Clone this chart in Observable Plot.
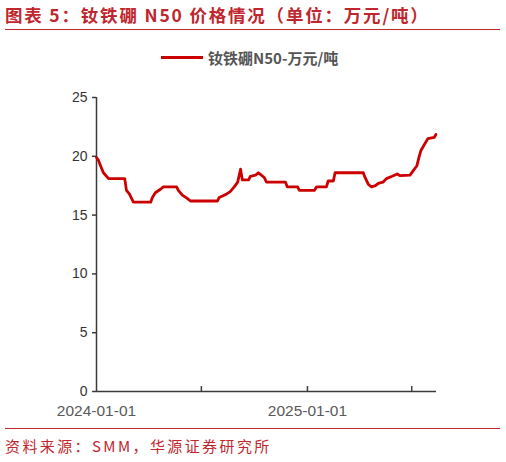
<!DOCTYPE html>
<html>
<head>
<meta charset="utf-8">
<script src="https://cdn.jsdelivr.net/npm/d3@7"></script>
<script src="https://cdn.jsdelivr.net/npm/@observablehq/plot@0.6"></script>
<style>
  html, body { margin: 0; padding: 0; background: #fff; }
  #wrap { position: relative; width: 506px; height: 462px; overflow: hidden; font-family: "Liberation Sans", Arial, sans-serif; }
  #title { position: absolute; left: 5px; top: 2px; font-family: "Noto Sans CJK SC", sans-serif; font-weight: bold; font-size: 17.5px; color: #c0262d; letter-spacing: 1.8px; white-space: nowrap; }
  #rule1 { position: absolute; left: 5px; top: 29px; width: 495px; height: 0; border-top: 1.5px solid #c0262d; }
  #legend { position: absolute; left: 161px; top: 47px; display: flex; align-items: center; white-space: nowrap; }
  #legend .sw { width: 42px; height: 0; border-top: 3px solid #cc0000; margin-right: 5px; }
  #legend .lt { font-family: "Noto Sans CJK SC", sans-serif; font-weight: bold; font-size: 15px; color: #555; }
  #chart { position: absolute; left: 0; top: 80px; }
  #rule2 { position: absolute; left: 5px; top: 428px; width: 495px; height: 0; border-top: 1.5px solid #c0262d; }
  #source { position: absolute; left: 5px; top: 435px; font-family: "Noto Sans CJK SC", sans-serif; font-size: 15px; color: #c0262d; letter-spacing: 2.4px; white-space: nowrap; }
</style>
</head>
<body>
<div id="wrap">
  <div id="title">图表 5：钕铁硼 N50 价格情况（单位：万元/吨）</div>
  <div id="rule1"></div>
  <div id="legend"><div class="sw"></div><div class="lt">钕铁硼N50-万元/吨</div></div>
  <div id="chart"></div>
  <div id="rule2"></div>
  <div id="source">资料来源：SMM，华源证券研究所</div>
</div>
<script>
// Data
const dates = [
  "2024-01-01","2024-01-04","2024-01-08","2024-01-13","2024-01-22","2024-02-19","2024-02-22","2024-02-27",
  "2024-03-05","2024-04-04","2024-04-07","2024-04-12","2024-04-21","2024-04-26","2024-05-19","2024-05-22",
  "2024-05-29","2024-06-07","2024-06-12","2024-07-29","2024-08-01","2024-08-14","2024-08-20","2024-08-27",
  "2024-09-02","2024-09-07","2024-09-10","2024-09-21","2024-09-24","2024-10-03","2024-10-08","2024-10-13",
  "2024-10-18","2024-10-22","2024-11-24","2024-11-27","2024-12-15","2024-12-18","2025-01-13","2025-01-17",
  "2025-02-03","2025-02-06","2025-02-15","2025-02-18","2025-04-08","2025-04-11","2025-04-17","2025-04-22",
  "2025-04-29","2025-05-04","2025-05-12","2025-05-18","2025-05-28","2025-06-06","2025-06-11","2025-06-28",
  "2025-07-04","2025-07-10","2025-07-14","2025-07-17","2025-07-23","2025-07-29","2025-08-09","2025-08-12"
];
const prices = [
  19.9, 19.7, 19.2, 18.6, 18.1, 18.1, 17.1, 16.8,
  16.1, 16.1, 16.5, 16.9, 17.2, 17.4, 17.4, 17.1,
  16.7, 16.4, 16.2, 16.2, 16.5, 16.8, 17.0, 17.4,
  17.8, 18.9, 18.0, 18.0, 18.3, 18.4, 18.6, 18.4,
  18.2, 17.8, 17.8, 17.4, 17.4, 17.1, 17.1, 17.4,
  17.4, 17.9, 17.9, 18.6, 18.6, 18.2, 17.6, 17.4,
  17.5, 17.7, 17.8, 18.1, 18.3, 18.5, 18.35, 18.4,
  18.8, 19.2, 20.0, 20.5, 21.0, 21.5, 21.6, 21.85
];
const yTicks = [0, 5, 10, 15, 20, 25];
const xTickDates = ["2024-07-01", "2025-01-01", "2025-07-01"];
const xLabelDates = ["2024-01-01", "2025-01-01"];
const xDomain = ["2024-01-01", "2025-08-13"];

const data = dates.map((d, i) => ({date: new Date(d + "T00:00:00Z"), value: prices[i]}));
const parse = s => new Date(s + "T00:00:00Z");
const fmt = d3.utcFormat("%Y-%m-%d");

const axisColor = "#3a3a3a";
const chart = Plot.plot({
  width: 506,
  height: 340,
  marginLeft: 96,
  marginRight: 70,
  marginTop: 17,
  marginBottom: 29,
  style: {fontFamily: "'Liberation Sans', Arial, sans-serif", fontSize: "13px", color: "#333", background: "transparent"},
  x: {type: "utc", domain: xDomain.map(parse)},
  y: {domain: [0, 25]},
  marks: [
    Plot.axisY(yTicks, {tickSize: 4, tickPadding: 5, stroke: axisColor, strokeWidth: 1.5, fontSize: 14, fill: "#333", label: null}),
    Plot.axisX(xLabelDates.map(parse), {tickSize: 0, tickPadding: 13, tickFormat: fmt, fontSize: 15.5, fill: "#595959", label: null}),
    Plot.ruleX(xTickDates.map(parse), {x: d => d, y1: 0, y2: 0.42, stroke: axisColor, strokeWidth: 1.5}),
    Plot.ruleX([0], {x: () => parse(xDomain[0]), y1: 0, y2: 25, stroke: axisColor, strokeWidth: 1.5}),
    Plot.ruleY([0], {stroke: axisColor, strokeWidth: 1.5}),
    Plot.line(data, {x: "date", y: "value", stroke: "#cc0000", strokeWidth: 2.8, strokeLinejoin: "round"})
  ]
});
document.getElementById("chart").appendChild(chart);
</script>
</body>
</html>
